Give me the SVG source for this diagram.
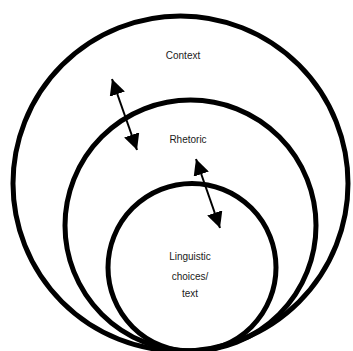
<svg xmlns="http://www.w3.org/2000/svg" width="353" height="351" viewBox="0 0 353 351">
<style>
.ring{fill:none;stroke:#000;stroke-width:5}
.lbl{font-family:"Liberation Sans",Arial,sans-serif;font-size:10px;fill:#1a1a1a;text-anchor:middle}
.conn{stroke:#000;stroke-width:2;fill:none;marker-start:url(#ah);marker-end:url(#ah)}
</style>
<defs>
<marker id="ah" viewBox="0 0 10 10" refX="10" refY="5" markerWidth="8" markerHeight="8" orient="auto-start-reverse" markerUnits="strokeWidth">
<path d="M0,0 L10,5 L0,10 z" fill="#000"/>
</marker>
</defs>
<rect width="353" height="351" fill="#fff"/>
<g id="context">
<circle class="ring" cx="180.5" cy="183.5" r="167.5"/>
<text class="lbl" x="183" y="59">Context</text>
</g>
<g id="rhetoric">
<circle class="ring" cx="190.5" cy="225.5" r="125.5"/>
<text class="lbl" x="188" y="143">Rhetoric</text>
</g>
<g id="linguistic">
<circle class="ring" cx="192" cy="267.5" r="84"/>
<text class="lbl" x="190" y="260">Linguistic</text>
<text class="lbl" x="190" y="280">choices/</text>
<text class="lbl" x="190" y="297">text</text>
</g>
<g id="connectors">
<path class="conn" d="M112,79 L137,150"/>
<path class="conn" d="M196,159 L220,228"/>
</g>
</svg>
